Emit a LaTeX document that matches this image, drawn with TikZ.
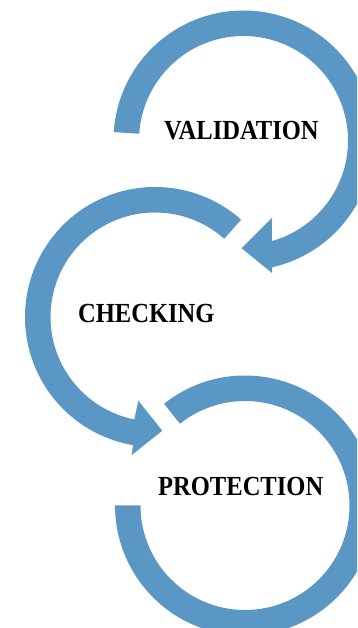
\documentclass[tikz,border=0pt]{standalone}
\usepackage{fontspec}
\newfontfamily\lblfont[FakeStretch=0.89]{Liberation Serif}
\usetikzlibrary{calc}
\definecolor{arrowblue}{RGB}{91,151,197}
\begin{document}
\begin{tikzpicture}[x=1pt,y=1pt,
  band/.style={fill=arrowblue, draw=none},
  lbl/.style={font=\lblfont\bfseries\fontsize{27.6}{30}\selectfont, inner sep=0pt, text=black}]
\useasboundingbox (0,0) rectangle (357,628);
\clip (0,0) rectangle (357,628);
% circular arrow 1 (VALIDATION)
\coordinate (c1) at (243.5,487.5);
\fill[band] ($(c1)+(176.3:130)$) arc[start angle=176.3, end angle=-77.3, radius=130]
  -- (272,355) -- (241.7,379.7) -- (272,410)
  -- ($(c1)+(-74.2:104.5)$) arc[start angle=-74.2, end angle=176.3, radius=104.5] -- cycle;
% circular arrow 2 (CHECKING)
\coordinate (c2) at (155,311);
\fill[band] ($(c2)+(48.5:130)$) arc[start angle=48.5, end angle=260.25, radius=130]
  -- (131.7,173) -- (162.3,197.3) -- (138.3,227.3)
  -- ($(c2)+(258.6:104.5)$) arc[start angle=258.6, end angle=48.5, radius=104.5] -- cycle;
% circular band 3 (PROTECTION)
\coordinate (c3) at (245,122.5);
\fill[band] ($(c3)+(128.5:130)$) arc[start angle=128.5, end angle=-180, radius=130]
  -- ($(c3)+(180:104.5)$) arc[start angle=-180, end angle=128.5, radius=104.5] -- cycle;
% labels
\node[lbl] (val) at (241.4,497.2) {VALIDATION};
\node[lbl] (chk) at (146.3,314) {CHECKING};
\node[lbl] (prot) at (240.7,141.7) {PROTECTION};
\end{tikzpicture}
\end{document}
